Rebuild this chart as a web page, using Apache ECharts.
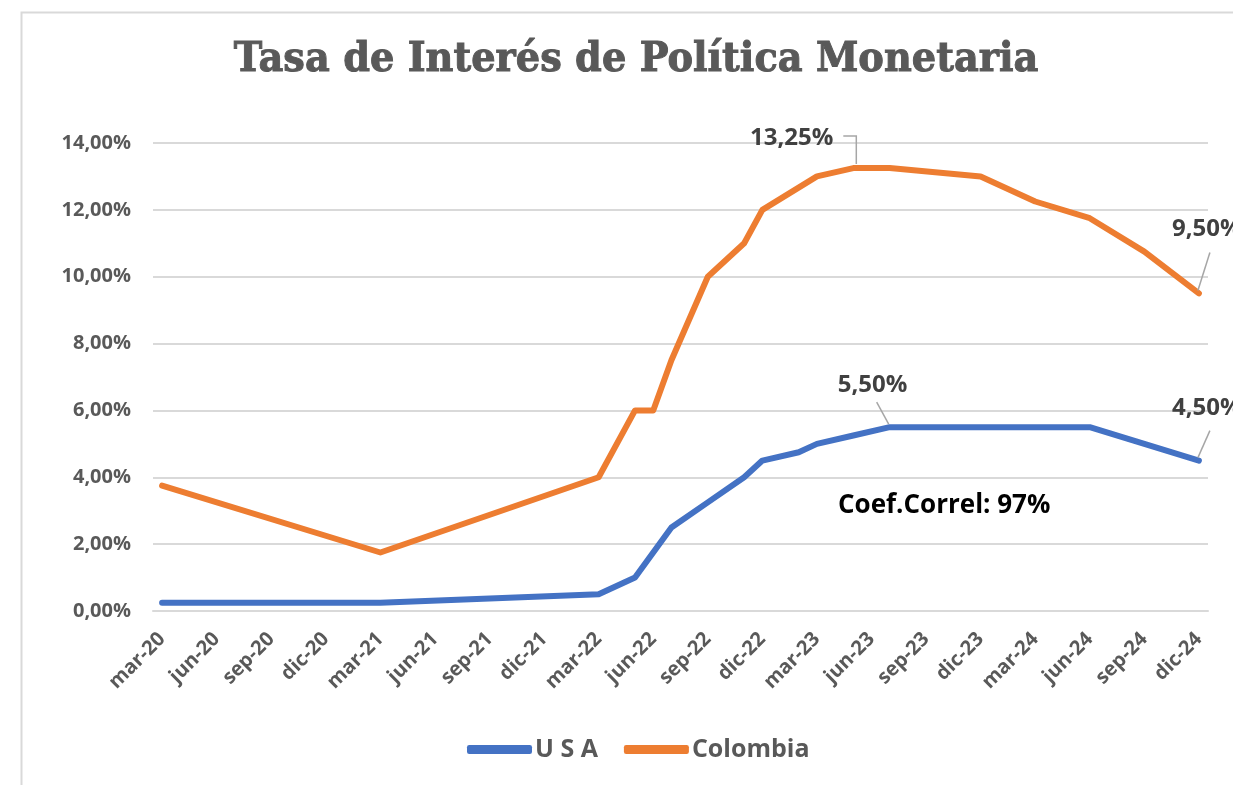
<!DOCTYPE html>
<html>
<head>
<meta charset="utf-8">
<script src="https://cdn.jsdelivr.net/npm/echarts@6/dist/echarts.min.js"></script>
<style>html,body{margin:0;padding:0;background:#fff}#c{width:1233px;height:785px}</style>
</head>
<body>
<div id="c"></div>
<script>
// Categories (monthly, labels shown quarterly)
const months = [
  'mar-20','abr-20','may-20','jun-20','jul-20','ago-20','sep-20','oct-20','nov-20','dic-20',
  'ene-21','feb-21','mar-21','abr-21','may-21','jun-21','jul-21','ago-21','sep-21','oct-21','nov-21','dic-21',
  'ene-22','feb-22','mar-22','abr-22','may-22','jun-22','jul-22','ago-22','sep-22','oct-22','nov-22','dic-22',
  'ene-23','feb-23','mar-23','abr-23','may-23','jun-23','jul-23','ago-23','sep-23','oct-23','nov-23','dic-23',
  'ene-24','feb-24','mar-24','abr-24','may-24','jun-24','jul-24','ago-24','sep-24','oct-24','nov-24','dic-24'
];
// USA series points (month, %)
const usaMonths = ['mar-20','mar-21','mar-22','may-22','jul-22','sep-22','nov-22','dic-22','feb-23','mar-23','may-23','jul-23','jun-24','sep-24','dic-24'];
const usaValues = [0.25, 0.25, 0.5, 1.0, 2.5, 3.25, 4.0, 4.5, 4.75, 5.0, 5.25, 5.5, 5.5, 5.0, 4.5];
// Colombia series points (month, %)
const colMonths = ['mar-20','mar-21','mar-22','may-22','jun-22','jul-22','sep-22','nov-22','dic-22','mar-23','may-23','jul-23','dic-23','mar-24','jun-24','sep-24','dic-24'];
const colValues = [3.75, 1.75, 4.0, 6.0, 6.0, 7.5, 10.0, 11.0, 12.0, 13.0, 13.25, 13.25, 13.0, 12.25, 11.75, 10.75, 9.5];
// Labelled points
const usaLabelled = ['jul-23','dic-24'];
const colLabelled = ['may-23','dic-24'];
const yTicks = [0, 2, 4, 6, 8, 10, 12, 14];
const seriesNames = ['U S A', 'Colombia'];
const noteText = 'Coef.Correl: 97%';
const titleText = 'Tasa de Interés de Política Monetaria';

const fmt = v => v.toFixed(2).replace('.', ',') + '%';

// label leader styles: leader polyline offsets from the point, text anchor offset, alignment
const leaderStyles = {
  'U S A|jul-23':    {line: [[-1, -3], [-13, -25]], text: [-52, -42], align: 'left'},
  'U S A|dic-24':    {line: [[-1, -3], [11, -30]],  text: [-27, -52], align: 'left'},
  'Colombia|may-23': {line: [[3, -4], [3, -32], [-10, -32]], text: [-20, -30], align: 'right'},
  'Colombia|dic-24': {line: [[-1, -3], [11, -41]],  text: [-27, -64], align: 'left'}
};

const labelPoints = [];
usaLabelled.forEach(m => labelPoints.push([m, usaValues[usaMonths.indexOf(m)], seriesNames[0]]));
colLabelled.forEach(m => labelPoints.push([m, colValues[colMonths.indexOf(m)], seriesNames[1]]));

function makeSeries(name, ms, vs, color) {
  return {
    name, type: 'line', data: ms.map((m, i) => [m, vs[i]]), color,
    showSymbol: false, symbol: 'none',
    lineStyle: {width: 6, color, cap: 'round', join: 'round'},
    itemStyle: {color},
    emphasis: {disabled: true},
    z: 3
  };
}

const chart = echarts.init(document.getElementById('c'), null, {renderer: 'canvas'});
chart.setOption({
  animation: false,
  backgroundColor: '#fff',
  grid: {left: 153, right: 25, top: 143, bottom: 174, containLabel: false},
  graphic: [
    {type: 'rect', left: 19, top: 10, shape: {width: 1260, height: 800}, style: {fill: 'none', stroke: '#D9D9D9', lineWidth: 2}, z: -1},
    {type: 'text', x: 636, y: 60, scaleX: 0.935, style: {text: titleText, fill: '#595959', font: 'bold 41px "DejaVu Serif"', textAlign: 'center', textVerticalAlign: 'middle', stroke: '#595959', lineWidth: 1}},
    {type: 'text', left: 838, top: 493, style: {text: noteText, fill: '#000', font: 'bold 26px "Open Sans"'}}
  ],
  legend: {
    left: 462, top: 732, itemWidth: 65, itemHeight: 9, itemGap: 26,
    icon: 'roundRect',
    data: seriesNames,
    textStyle: {color: '#595959', fontFamily: 'Open Sans', fontWeight: 'bold', fontSize: 25, padding: [0, 0, 0, -2]}
  },
  xAxis: {
    type: 'category', data: months, boundaryGap: true,
    axisLine: {lineStyle: {color: '#D9D9D9', width: 2}},
    axisTick: {show: false},
    axisLabel: {interval: 2, rotate: 45, margin: 25, color: '#595959', fontFamily: 'Open Sans', fontWeight: 'bold', fontSize: 20}
  },
  yAxis: {
    type: 'value', min: yTicks[0], max: yTicks[yTicks.length - 1], interval: 2,
    axisLine: {show: false}, axisTick: {show: false},
    splitLine: {lineStyle: {color: '#D9D9D9', width: 2}},
    axisLabel: {margin: 22, color: '#595959', fontFamily: 'Open Sans', fontWeight: 'bold', fontSize: 20, formatter: v => fmt(v)}
  },
  series: [
    makeSeries(seriesNames[0], usaMonths, usaValues, '#4472C4'),
    makeSeries(seriesNames[1], colMonths, colValues, '#ED7D31'),
    {
      type: 'custom', name: 'labels', data: labelPoints, silent: true, z: 5,
      encode: {x: 0, y: 1},
      renderItem: (params, api) => {
        const item = labelPoints[params.dataIndex];
        const st = leaderStyles[item[2] + '|' + item[0]];
        const p = api.coord([api.value(0), api.value(1)]);
        return {
          type: 'group',
          children: [
            {type: 'polyline', shape: {points: st.line.map(o => [p[0] + o[0], p[1] + o[1]])},
             style: {stroke: '#A6A6A6', lineWidth: 1.5, fill: null}},
            {type: 'text', x: p[0] + st.text[0], y: p[1] + st.text[1],
             style: {text: fmt(item[1]), fill: '#404040', font: 'bold 24px "Open Sans"', textAlign: st.align, textVerticalAlign: 'middle'}}
          ]
        };
      }
    }
  ]
});
</script>
</body>
</html>
